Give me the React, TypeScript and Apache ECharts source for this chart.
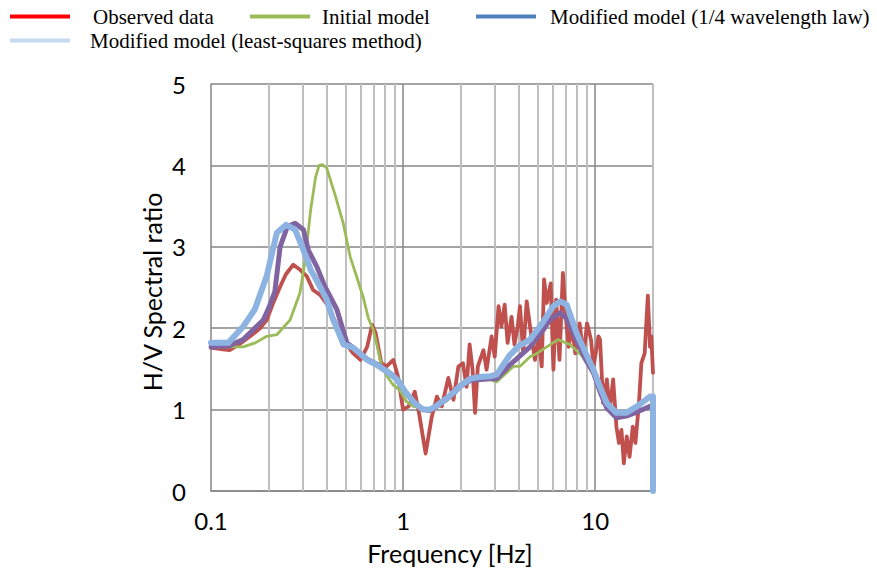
import React, { useEffect, useRef } from "react";
import * as echarts from "echarts";

// ---- tick labels / grid positions ----
const xTickLabels = [0.1, 1, 10];
const majorVerticalLines = [1, 10];
const minorVerticalLines = [0.2, 0.3, 0.4, 0.5, 0.6, 0.7, 0.8, 0.9, 2, 3, 4, 5, 6, 7, 8, 9, 20];

// ---- legend names ----
const seriesNames = [
  "Observed data",
  "Initial model",
  "Modified model (1/4 wavelength law)",
  "Modified model (least-squares method)",
];

// ---- Observed data ----
const obsFreq = [
  0.1, 0.115, 0.125, 0.14, 0.16, 0.18, 0.195, 0.21, 0.229, 0.245, 0.268, 0.29, 0.315, 0.34, 0.37, 0.4,
  0.45, 0.5, 0.55, 0.6, 0.65, 0.69, 0.72, 0.77, 0.82, 0.89, 0.94, 1.0, 1.07, 1.15, 1.21, 1.31, 1.41,
  1.5, 1.59, 1.72, 1.83, 1.94, 2.05, 2.14, 2.22, 2.3, 2.37, 2.45, 2.62, 2.72, 2.89, 3.0, 3.14, 3.25,
  3.38, 3.5, 3.67, 3.8, 3.95, 4.06, 4.22, 4.4, 4.58, 4.86, 5.06, 5.27, 5.42, 5.6, 5.87, 6.06, 6.26,
  6.52, 6.79, 6.98, 7.27, 7.57, 7.88, 8.3, 8.7, 9.07, 9.51, 9.81, 10.4, 10.6, 11.0, 11.5, 11.9, 12.4,
  12.9, 13.3, 13.7, 14.1, 14.6, 15.1, 15.7, 16.2, 16.9, 17.4, 18.1, 18.8, 19.3, 19.6, 20,
];
const obsVal = [
  1.76, 1.74, 1.73, 1.8, 1.9, 2.0, 2.1, 2.3, 2.51, 2.66, 2.78, 2.72, 2.64, 2.47, 2.41, 2.3,
  2.05, 1.82, 1.69, 1.61, 1.77, 2.04, 1.94, 1.57, 1.53, 1.61, 1.41, 1.0, 1.04, 1.22, 0.96, 0.46, 0.91,
  1.16, 1.04, 1.39, 1.12, 1.53, 1.57, 1.28, 1.8, 1.49, 0.96, 1.53, 1.73, 1.49, 1.9, 1.65, 2.27, 2.02,
  2.29, 1.82, 2.14, 1.8, 2.02, 2.27, 1.69, 2.33, 2.02, 1.61, 1.9, 1.53, 2.6, 2.31, 2.55, 1.49, 2.35,
  1.61, 2.68, 2.23, 1.77, 2.02, 1.69, 2.06, 1.65, 2.06, 1.86, 1.53, 1.9, 1.86, 1.08, 1.37, 1.0, 1.37,
  0.79, 0.59, 0.75, 0.34, 0.67, 0.42, 0.79, 0.59, 1.08, 1.57, 1.69, 2.4, 1.77, 1.9, 1.45,
];

// ---- Initial model ----
const initFreq = [
  0.1, 0.12, 0.147, 0.17, 0.195, 0.22, 0.258, 0.29, 0.31, 0.33, 0.35, 0.365, 0.38, 0.4, 0.442, 0.488,
  0.53, 0.57, 0.62, 0.66, 0.7, 0.73, 0.77, 0.82, 0.89, 0.96, 1.04, 1.13, 1.27, 1.38, 1.5, 1.7, 2.0,
  2.24, 2.84, 3.07, 3.75, 4.05, 4.58, 4.97, 5.6, 6.4, 7.4, 8.3, 9.2, 9.8, 10.6, 11.5, 12.9, 14.5,
  16.5, 19.3, 20,
];
const initVal = [
  1.8, 1.77, 1.77, 1.82, 1.9, 1.92, 2.1, 2.43, 2.85, 3.45, 3.85, 4.0, 4.01, 3.97, 3.64, 3.29,
  2.88, 2.65, 2.38, 2.12, 1.98, 1.8, 1.55, 1.42, 1.3, 1.24, 1.1, 1.04, 1.02, 1.0, 1.03, 1.12, 1.28,
  1.36, 1.37, 1.34, 1.53, 1.53, 1.65, 1.69, 1.77, 1.86, 1.8, 1.69, 1.57, 1.49, 1.26, 1.04, 0.92, 0.93,
  0.98, 1.03, 1.04,
];

// ---- Modified model (1/4 wavelength law) ----
const quarterFreq = [
  0.1, 0.123, 0.147, 0.187, 0.2, 0.215, 0.229, 0.25, 0.274, 0.303, 0.321, 0.355, 0.392, 0.452, 0.51,
  0.55, 0.597, 0.65, 0.74, 0.82, 0.93, 1.04, 1.15, 1.27, 1.38, 1.5, 1.69, 1.85, 2.0, 2.24, 2.84, 3.07,
  3.6, 4.58, 5.37, 5.8, 6.57, 7.1, 8.0, 8.9, 9.8, 10.6, 11.5, 12.9, 14.5, 16.5, 19.3, 20,
];
const quarterVal = [
  1.77, 1.78, 1.86, 2.1, 2.25, 2.45, 3.0, 3.25, 3.29, 3.21, 2.96, 2.76, 2.51, 2.23, 1.82,
  1.76, 1.69, 1.62, 1.55, 1.48, 1.38, 1.2, 1.08, 1.0, 0.99, 1.04, 1.13, 1.21, 1.29, 1.36, 1.38, 1.38,
  1.55, 1.77, 1.98, 2.1, 2.19, 2.12, 1.85, 1.62, 1.45, 1.22, 1.02, 0.9, 0.92, 0.97, 1.04, 1.05,
];

// ---- Modified model (least-squares method) ----
const lsqFreq = [
  0.1, 0.123, 0.147, 0.169, 0.195, 0.22, 0.246, 0.274, 0.303, 0.33, 0.36, 0.4, 0.433, 0.452, 0.49,
  0.52, 0.55, 0.597, 0.65, 0.74, 0.82, 0.93, 1.04, 1.15, 1.27, 1.38, 1.5, 1.69, 1.85, 2.0, 2.24, 2.5,
  2.84, 3.07, 3.6, 4.0, 4.58, 5.37, 6.06, 6.57, 7.1, 8.0, 8.9, 9.8, 10.6, 11.5, 12.9, 14.5, 16.5,
  19.3, 20, 20,
];
const lsqVal = [
  1.82, 1.82, 2.02, 2.23, 2.64, 3.17, 3.27, 3.21, 2.96, 2.72, 2.56, 2.35, 2.1, 2.0, 1.8,
  1.78, 1.76, 1.69, 1.61, 1.54, 1.47, 1.37, 1.2, 1.08, 1.0, 1.0, 1.05, 1.14, 1.22, 1.3, 1.38, 1.4,
  1.41, 1.43, 1.67, 1.78, 1.86, 2.08, 2.27, 2.33, 2.29, 1.94, 1.7, 1.49, 1.28, 1.08, 0.96, 0.96, 1.04,
  1.16, 1.16, 0,
];

const zip = (f: number[], v: number[]) => f.map((x, i) => [x, v[i]]);

export default function App() {
  const ref = useRef<HTMLDivElement>(null);

  useEffect(() => {
    if (!ref.current) return;
    const chart = echarts.init(ref.current, undefined, { renderer: "svg" });
    const serifFont = "Liberation Serif";
    const sansFont = "Lato";

    const legendCfg = (name: string, color: string, left: number, top: number, pad: number) => ({
      data: [{ name, itemStyle: { color } }],
      left,
      top,
      icon: "rect",
      itemWidth: 60,
      itemHeight: 4,
      padding: 0,
      selectedMode: false,
      textStyle: {
        fontFamily: serifFont,
        fontSize: 21,
        color: "#000",
        padding: [0, 0, 0, pad],
      },
    });

    const lineSeries = (name: string, data: number[][], color: string, width: number, z: number) => ({
      name,
      type: "line",
      data,
      showSymbol: false,
      symbol: "none",
      z,
      lineStyle: { color, width, cap: "round", join: "round" },
      itemStyle: { color },
      emphasis: { disabled: true },
    });

    chart.setOption({
      animation: false,
      legend: [
        legendCfg(seriesNames[0], "#ff0000", 10, 6, 18),
        legendCfg(seriesNames[1], "#9bbb59", 250, 6, 7),
        legendCfg(seriesNames[2], "#4f81bd", 476, 6, 9),
        legendCfg(seriesNames[3], "#c6d9f1", 10, 30, 15),
      ],
      grid: { left: 211, top: 84, right: 224, bottom: 81, containLabel: false },
      xAxis: {
        type: "log",
        logBase: 10,
        min: 0.1,
        max: 20,
        axisLine: { show: true, lineStyle: { color: "#868686", width: 1.5 } },
        axisTick: { show: false },
        splitLine: { show: false },
        minorTick: { show: false },
        axisLabel: {
          margin: 17,
          fontFamily: sansFont,
          fontSize: 24,
          color: "#000",
          formatter: (v: number) => {
            const hit = xTickLabels.find((t) => Math.abs(v - t) / t < 1e-6);
            return hit === undefined ? "" : String(hit);
          },
        },
      },
      yAxis: {
        type: "value",
        min: 0,
        max: 5,
        interval: 1,
        axisLine: { show: true, lineStyle: { color: "#868686", width: 1.5 } },
        axisTick: { show: false },
        splitLine: { show: true, lineStyle: { color: "#868686", width: 1.5 } },
        axisLabel: { margin: 25, fontFamily: sansFont, fontSize: 24, color: "#000" },
      },
      graphic: [
        {
          type: "text",
          x: 450,
          y: 553,
          style: { text: "Frequency [Hz]", font: `25px ${sansFont}`, fill: "#000", align: "center", verticalAlign: "middle" },
        },
        {
          type: "text",
          x: 152,
          y: 292,
          rotation: Math.PI / 2,
          style: { text: "H/V Spectral ratio", font: `25px ${sansFont}`, fill: "#000", align: "center", verticalAlign: "middle" },
        },
      ],
      series: [
        {
          ...lineSeries(seriesNames[0], zip(obsFreq, obsVal), "#c0504d", 3.8, 3),
          markLine: {
            silent: true,
            symbol: ["none", "none"],
            z: 1,
            label: { show: false },
            emphasis: { disabled: true },
            data: [
              ...minorVerticalLines.map((v) => ({ xAxis: v, lineStyle: { color: "#bfbfbf", width: 2, type: "solid" } })),
              ...majorVerticalLines.map((v) => ({ xAxis: v, lineStyle: { color: "#868686", width: 1.5, type: "solid" } })),
            ],
          },
        },
        lineSeries(seriesNames[1], zip(initFreq, initVal), "#9bbb59", 2.8, 4),
        lineSeries(seriesNames[2], zip(quarterFreq, quarterVal), "#8064a2", 5, 5),
        lineSeries(seriesNames[3], zip(lsqFreq, lsqVal), "#8db3e2", 6, 6),
      ],
    });

    return () => chart.dispose();
  }, []);

  return (
    <div
      ref={ref}
      style={{ position: "fixed", left: 0, top: 0, width: 877, height: 572, background: "#fff" }}
    />
  );
}
